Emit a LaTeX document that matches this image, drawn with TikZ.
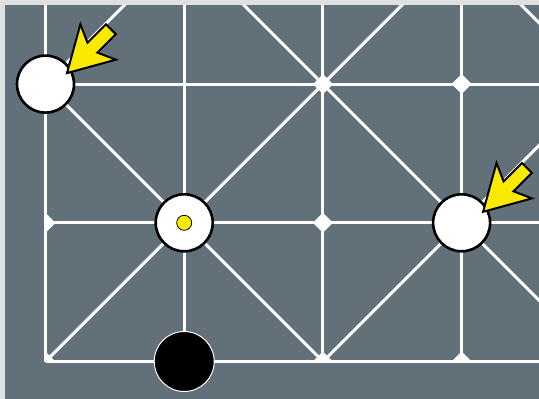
\documentclass[tikz,border=0pt]{standalone}
\usetikzlibrary{calc}
\definecolor{slate}{RGB}{98,113,121}
\definecolor{edgegray}{RGB}{222,224,226}
\definecolor{hintyellow}{RGB}{250,234,0}
\tikzset{
  gridline/.style={draw=white, line width=3pt},
  spot/.style={fill=white},
  whitepiece/.style={circle, draw=black, fill=white, line width=2.6pt, minimum size=57pt, inner sep=0pt},
  blackpiece/.style={circle, draw=white, fill=black, line width=1pt, minimum size=60pt, inner sep=0pt},
  markdot/.style={circle, draw=black, fill=hintyellow, line width=0.8pt, minimum size=15pt, inner sep=0pt},
  hintarrow/.style={fill=hintyellow, draw=black, line width=2pt, line join=miter}
}
\newcommand\hintarrowat[1]{%
  \draw[hintarrow] (#1) -- ++(13.4,-48.8) -- ++(7.1,18.4) -- ++(18.4,-18.4)
    -- ++(9.9,9.9) -- ++(-18.4,18.4) -- ++(18.4,7.1) -- cycle;}
\begin{document}
\begin{tikzpicture}[x=1pt,y=-1pt]
\useasboundingbox (0,0) rectangle (539,399);
\fill[edgegray] (0,0) rectangle (539,399);
\fill[slate] (5,5) rectangle (539,399);
\begin{scope}
\clip (5,5) rectangle (539,399);
% grid points
\foreach \c in {0,...,4}{
  \foreach \r in {0,...,3}{
    \coordinate (g-\c-\r) at ({45.5+138.7*\c},{361.5-138.7*\r});
  }
}
% orthogonal lines
\foreach \r in {0,1,2}{ \draw[gridline] (g-0-\r) -- (g-4-\r); }
\foreach \c in {0,1,2,3}{ \draw[gridline] (g-\c-0) -- (g-\c-3); }
% diagonals
\draw[gridline] (g-0-0) -- (g-3-3);
\draw[gridline] (g-2-0) -- (g-4-2);
\draw[gridline] (g-0-2) -- (g-1-3);
\draw[gridline] (g-0-2) -- (g-2-0);
\draw[gridline] (g-1-3) -- (g-4-0);
\draw[gridline] (g-3-3) -- (g-4-2);
% intersection spots, clipped to the board
\begin{scope}
\clip (45.5,0) rectangle (539,361.5);
\foreach \p in {g-2-2,g-3-2,g-2-1,g-0-1,g-2-0,g-3-0,g-0-0}{
  \fill[spot] ($(\p)+(-10,0)$) -- ($(\p)+(0,-10)$) -- ($(\p)+(10,0)$) -- ($(\p)+(0,10)$) -- cycle;
}
\end{scope}
% pieces
\node[whitepiece] (p1) at (g-0-2) {};
\node[whitepiece] (p2) at (g-1-1) {};
\node[markdot] (m2) at (p2.center) {};
\node[whitepiece] (p3) at (g-3-1) {};
\node[blackpiece] (b1) at (g-1-0) {};
% hint arrows
\coordinate (t1) at ($(p1.center)+(21.5,-11)$);
\coordinate (t3) at ($(p3.center)+(21.5,-11)$);
\hintarrowat{t1}
\hintarrowat{t3}
\end{scope}
\end{tikzpicture}
\end{document}
